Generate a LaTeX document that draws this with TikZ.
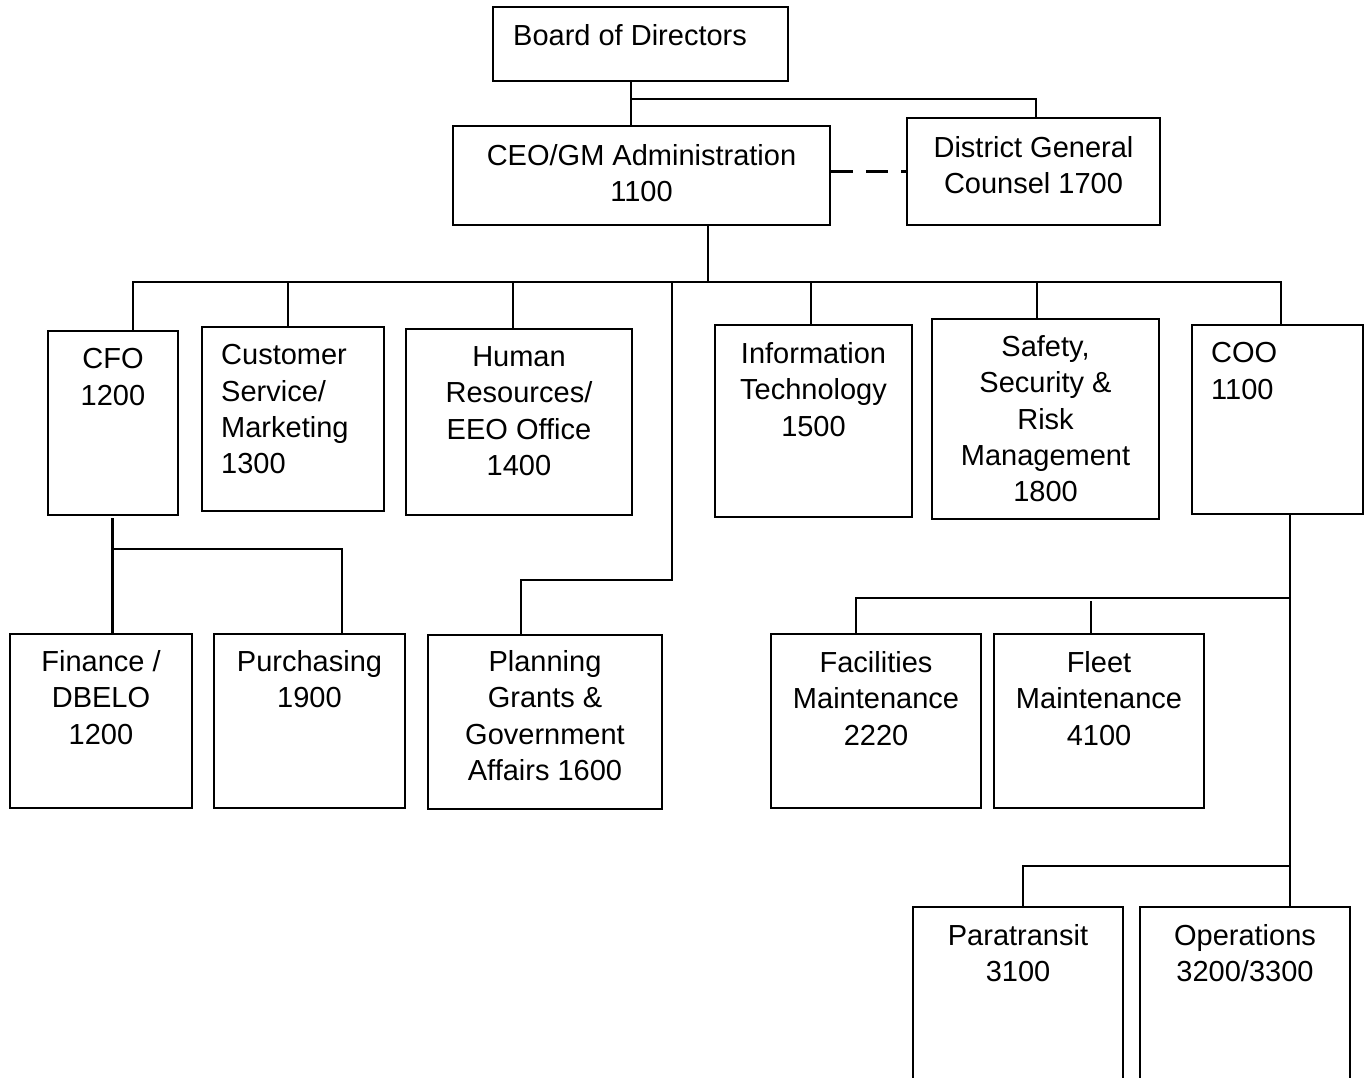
\documentclass[tikz,border=0pt]{standalone}
\usepackage{fontspec}
\setmainfont{Liberation Sans}
\newcommand\firststrut{\rule{0pt}{25pt}}
\begin{document}
\begin{tikzpicture}[x=1pt,y=-1pt,
  box/.style={draw=black, line width=2.6pt, inner sep=0pt, rectangle},
  lbl/.style={font=\fontsize{29}{36.2}\selectfont, align=center, inner sep=0pt, anchor=north, execute at begin node=\firststrut},
  lbll/.style={lbl, align=left, anchor=north west},
  conn/.style={line width=2.6pt, line cap=rect},
  dashconn/.style={line width=2.6pt, dash pattern=on 22pt off 13pt}]
\useasboundingbox (0,0) rectangle (1366,1078);
\clip (0,0) rectangle (1366,1078);
\fill[white] (0,0) rectangle (1366,1078);
% boxes
\node[box, minimum width=295pt, minimum height=74pt]  (board) at (640.5,44) {};
\node[box, minimum width=377pt, minimum height=99pt]  (ceo)   at (641.5,175.5) {};
\node[box, minimum width=253pt, minimum height=107pt] (dgc)   at (1033.5,171.5) {};
\node[box, minimum width=130pt, minimum height=184pt] (cfo)   at (113,423) {};
\node[box, minimum width=182pt, minimum height=184pt] (cust)  at (293,419) {};
\node[box, minimum width=226pt, minimum height=186pt] (hr)    at (519,422) {};
\node[box, minimum width=197pt, minimum height=192pt] (it)    at (813.5,421) {};
\node[box, minimum width=227pt, minimum height=200pt] (safe)  at (1045.5,419) {};
\node[box, minimum width=171pt, minimum height=189pt] (coo)   at (1277.5,419.5) {};
\node[box, minimum width=182pt, minimum height=174pt] (fin)   at (101,721) {};
\node[box, minimum width=191pt, minimum height=174pt] (pur)   at (309.5,721) {};
\node[box, minimum width=234pt, minimum height=174pt] (plan)  at (545,722) {};
\node[box, minimum width=210pt, minimum height=174pt] (fac)   at (876,721) {};
\node[box, minimum width=210pt, minimum height=174pt] (fleet) at (1099,721) {};
\node[box, minimum width=210pt, minimum height=193pt] (para)  at (1018,1003.5) {};
\node[box, minimum width=210pt, minimum height=193pt] (ops)   at (1245,1003.5) {};
% labels
\node[lbll] (board-t) at (513,20) {Board of Directors};
\node[lbl] (ceo-t) at (641.5,144.5) {CEO/GM Administration\\1100};
\node[lbl] (dgc-t) at (1033.5,136.5) {District General\\Counsel 1700};
\node[lbl] (cfo-t) at (113,348.5) {CFO\\1200};
\node[lbll] (cust-t) at (221,344.5) {Customer\\Service/\\Marketing\\1300};
\node[lbl] (hr-t) at (519,346.5) {Human\\Resources/\\EEO Office\\1400};
\node[lbl] (it-t) at (813.5,342.5) {Information\\Technology\\1500};
\node[lbl] (safe-t) at (1045.5,335.5) {Safety,\\Security \&\\Risk\\Management\\1800};
\node[lbll] (coo-t) at (1211,342.5) {COO\\1100};
\node[lbl] (fin-t) at (101,650.5) {Finance /\\DBELO\\1200};
\node[lbl] (pur-t) at (309.5,650.5) {Purchasing\\1900};
\node[lbl] (plan-t) at (545,650.5) {Planning\\Grants \&\\Government\\Affairs 1600};
\node[lbl] (fac-t) at (876,651.5) {Facilities\\Maintenance\\2220};
\node[lbl] (fleet-t) at (1099,651.5) {Fleet\\Maintenance\\4100};
\node[lbl] (para-t) at (1018,924.5) {Paratransit\\3100};
\node[lbl] (ops-t) at (1245,924.5) {Operations\\3200/3300};
% connector points
\coordinate (j0) at (631,99);
\coordinate (j1) at (1036,99);
\coordinate (m) at (708,282);
\coordinate (bL) at (133,282);
\coordinate (bR) at (1281,282);
\coordinate (b2) at (288,282);
\coordinate (b3) at (513,282);
\coordinate (b5) at (811,282);
\coordinate (b6) at (1037,282);
\coordinate (p1) at (672,282);
\coordinate (p2) at (672,580);
\coordinate (p3) at (521,580);
\coordinate (c1) at (112.5,519);
\coordinate (c2) at (112.5,549);
\coordinate (c3) at (342,549);
\coordinate (o1) at (1290,598);
\coordinate (o2) at (856,598);
\coordinate (o3) at (1091,602);
\coordinate (o4) at (1290,866);
\coordinate (o5) at (1023,866);
% connectors
\draw[conn] (j0 |- board.south) -- (j0 |- ceo.north);
\draw[conn] (j0) -- (j1) -- (j1 |- dgc.north);
\draw[dashconn] (dgc.west -| ceo.east) -- (dgc.west);
\draw[conn] (m |- ceo.south) -- (m);
\draw[conn] (bL) -- (bR);
\draw[conn] (bL) -- (bL |- cfo.north);
\draw[conn] (b2) -- (b2 |- cust.north);
\draw[conn] (b3) -- (b3 |- hr.north);
\draw[conn] (b5) -- (b5 |- it.north);
\draw[conn] (b6) -- (b6 |- safe.north);
\draw[conn] (bR) -- (bR |- coo.north);
\draw[conn] (p1) -- (p2) -- (p3) -- (p3 |- plan.north);
\draw[conn] (c1) -- (c1 |- fin.north);
\draw[conn] (c2) -- (c3) -- (c3 |- pur.north);
\draw[conn] (o1 |- coo.south) -- (o1 |- ops.north);
\draw[conn] (o1) -- (o2) -- (o2 |- fac.north);
\draw[conn] (o3) -- (o3 |- fleet.north);
\draw[conn] (o4) -- (o5) -- (o5 |- para.north);
\end{tikzpicture}
\end{document}
